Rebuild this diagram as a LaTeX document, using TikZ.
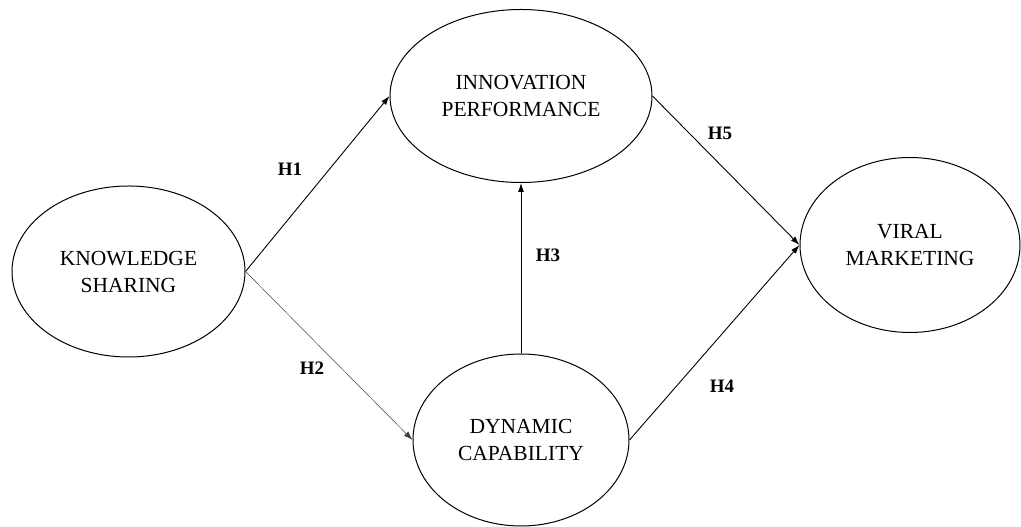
\documentclass[tikz,border=0pt]{standalone}
\usepackage{fontspec}
\setmainfont{Liberation Serif}
\usetikzlibrary{arrows.meta, positioning, shapes.geometric}
\tikzset{
    construct/.style = {
      ellipse, draw=black, line width=1pt, inner sep=0, align=center,
      font=\fontsize{21.5}{27}\selectfont,
    },
    link/.style = {line width=0.9pt, black, arrows={-Latex[length=9pt, width=6pt]}},
    thin link/.style = {link, line width=0.5pt, black!75!white},
    hypo/.style = {font=\fontsize{19}{19}\selectfont\bfseries, inner sep=0},
}
\begin{document}
\begin{tikzpicture}
    \useasboundingbox (0pt, 0pt) rectangle (1021pt, 527pt);

    %% Draw the four constructs
    \node [construct, minimum width=233pt, minimum height=171pt]
          (sharing) at (128.5pt, 255.5pt) {KNOWLEDGE\\SHARING};
    \node [construct, minimum width=262pt, minimum height=173pt]
          (innovation) at (521pt, 431pt) {INNOVATION\\PERFORMANCE};
    \node [construct, minimum width=216pt, minimum height=172pt]
          (dynamic) at (521pt, 87pt) {DYNAMIC\\CAPABILITY};
    \node [construct, minimum width=220pt, minimum height=175pt]
          (viral) at (910pt, 282pt) {VIRAL\\MARKETING};

    %% Connect them together
    \draw [link] (sharing.east) -- (innovation.west);
    \draw [thin link] (sharing.east) -- (dynamic.west);
    \draw [link] (dynamic.north) -- (innovation.south);
    \draw [link] (dynamic.east) -- (viral.west);
    \draw [link] (innovation.east) -- (viral.west);

    %% Hypothesis labels
    \node [hypo] (h1) at (290pt, 358pt) {H1};
    \node [hypo] (h2) at (312pt, 159pt) {H2};
    \node [hypo] (h3) at (548pt, 272pt) {H3};
    \node [hypo] (h4) at (722pt, 141pt) {H4};
    \node [hypo] (h5) at (720pt, 394pt) {H5};
\end{tikzpicture}
\end{document}
